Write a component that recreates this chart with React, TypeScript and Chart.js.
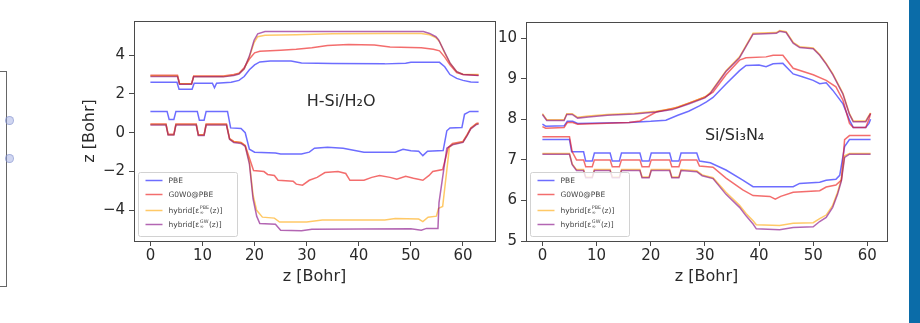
import React, { useEffect, useRef } from "react";
import { Chart, registerables } from "chart.js";

Chart.register(...registerables);

type Pts = [number, number][];

// ---------- shared axis / label data ----------
const xTicks = [0, 10, 20, 30, 40, 50, 60];
const leftYTicks = [-4, -2, 0, 2, 4];
const rightYTicks = [5, 6, 7, 8, 9, 10];
const axisTitle = "z [Bohr]";
const legendLabels = ["PBE", "G0W0@PBE", "hybrid[ε_∞^PBE(z)]", "hybrid[ε_∞^GW(z)]"];
const panelNames = ["H-Si/H₂O", "Si/Si₃N₄"];
const panelNamePos: [number, number][] = [[30, 1.37], [30, 7.49]];

// ---------- H-Si/H2O panel ----------
const hsiPbeCB: Pts = [[0,2.6],[5.1,2.6],[5.5,2.24],[8.0,2.24],[8.4,2.55],[11.9,2.55],[12.3,2.32],[12.7,2.55],[15.5,2.6],[17.0,2.7],[18.0,2.9],[19.0,3.25],[20.0,3.5],[21.0,3.65],[23,3.7],[27,3.7],[29,3.6],[35,3.57],[45,3.55],[49,3.58],[50,3.63],[55.5,3.63],[56.5,3.4],[57.5,3.0],[58.8,2.8],[60,2.7],[61.5,2.62],[63,2.6]];
const hsiG0w0CB: Pts = [[0,2.97],[5.2,2.97],[5.6,2.52],[7.9,2.52],[8.3,2.93],[14,2.93],[16,3.0],[17,3.07],[18,3.35],[19,3.8],[20,4.12],[21,4.2],[25,4.25],[28,4.3],[31,4.38],[34,4.5],[38,4.55],[43,4.52],[46,4.42],[52,4.38],[54.3,4.3],[55.5,4.22],[56.5,3.9],[57.5,3.5],[58.8,3.1],[60,3.0],[63,2.97]];
const hsiHybPbeCB: Pts = [[0,2.93],[5.2,2.93],[5.6,2.52],[7.9,2.52],[8.3,2.9],[14,2.9],[16,2.97],[17,3.05],[18,3.3],[19,3.9],[19.9,4.65],[20.6,4.95],[22,5.02],[28,5.05],[35,5.1],[45,5.12],[52,5.12],[53.6,5.05],[54.8,4.9],[55.5,4.7],[56.5,4.1],[57.5,3.6],[58.8,3.15],[60,3.02],[63,3.0]];
const hsiHybGwCB: Pts = [[0,2.9],[5.2,2.9],[5.6,2.5],[7.9,2.5],[8.3,2.88],[14,2.88],[16,2.95],[17,3.03],[18,3.3],[19,3.95],[19.9,4.77],[20.6,5.1],[22,5.22],[52.4,5.22],[53.6,5.12],[54.8,4.95],[55.3,4.8],[56.5,4.15],[57.5,3.6],[58.8,3.15],[60,3.0],[63,2.95]];
const hsiPbeVB: Pts = [[0,1.1],[3.2,1.1],[3.6,0.68],[4.5,0.68],[4.9,1.1],[9.0,1.1],[9.4,0.65],[10.3,0.65],[10.7,1.1],[14.8,1.1],[15.4,0.25],[17.4,0.22],[18.2,0.0],[19.0,-0.85],[20.0,-1.0],[24,-1.05],[25,-1.1],[29,-1.1],[30.5,-1.0],[31.5,-0.8],[34,-0.75],[37,-0.8],[39,-0.9],[41,-1.0],[47,-1.0],[48.5,-0.85],[50,-0.93],[51.5,-0.95],[52.3,-1.18],[53.2,-0.95],[56.2,-0.92],[56.9,0.1],[57.5,0.25],[59.8,0.27],[60.3,0.95],[61.3,1.1],[63,1.1]];
const hsiG0w0VB: Pts = [[0,0.45],[3.0,0.45],[3.4,-0.08],[4.5,-0.08],[4.9,0.45],[8.8,0.45],[9.2,-0.1],[10.3,-0.1],[10.7,0.45],[14.6,0.45],[15.2,-0.3],[16,-0.45],[17.4,-0.5],[18.2,-0.65],[19,-1.3],[19.8,-1.95],[21.8,-2.0],[22.5,-2.15],[23.8,-2.2],[24.5,-2.45],[27.4,-2.5],[28,-2.65],[29.2,-2.7],[30.5,-2.45],[32,-2.3],[33.5,-2.05],[36,-2.0],[37.5,-2.1],[38.3,-2.45],[41,-2.45],[42.5,-2.3],[44,-2.2],[46,-2.3],[47.3,-2.4],[49,-2.25],[50.5,-2.35],[52.3,-2.45],[53.5,-2.2],[54.2,-2.0],[56.1,-1.9],[57.2,-0.75],[58,-0.55],[60,-0.45],[60.8,-0.1],[61.5,0.25],[62.6,0.48],[63,0.5]];
const hsiHybPbeVB: Pts = [[0,0.42],[3.0,0.42],[3.4,-0.1],[4.5,-0.1],[4.9,0.42],[8.8,0.42],[9.2,-0.12],[10.3,-0.12],[10.7,0.42],[14.6,0.42],[15.2,-0.32],[16,-0.47],[17.4,-0.52],[18.2,-0.67],[19,-1.5],[19.7,-3.2],[20.4,-4.0],[21.5,-4.35],[23.8,-4.4],[24.8,-4.6],[30,-4.6],[33,-4.5],[45,-4.5],[47,-4.42],[51.5,-4.45],[52.3,-4.58],[53.3,-4.35],[54.9,-4.3],[55.3,-3.9],[56.1,-3.8],[57.4,-0.75],[58,-0.6],[60,-0.47],[60.8,-0.12],[61.5,0.22],[62.6,0.45],[63,0.47]];
const hsiHybGwVB: Pts = [[0,0.4],[3.0,0.4],[3.4,-0.12],[4.5,-0.12],[4.9,0.4],[8.8,0.4],[9.2,-0.14],[10.3,-0.14],[10.7,0.4],[14.6,0.4],[15.2,-0.34],[16,-0.5],[17.4,-0.55],[18.2,-0.7],[19,-1.6],[19.7,-3.4],[20.4,-4.3],[21,-4.68],[24,-4.72],[25,-5.02],[29,-5.05],[31,-4.97],[50,-4.95],[52,-5.02],[53,-4.93],[55.2,-4.93],[55.4,-3.6],[56.9,-0.8],[58,-0.62],[60,-0.5],[60.8,-0.15],[61.5,0.2],[62.6,0.43],[63,0.45]];

// ---------- Si/Si3N4 panel ----------
const sinPbeCB: Pts = [[0,7.88],[0.6,7.83],[4,7.84],[4.6,7.95],[5.6,7.95],[6.5,7.9],[16,7.92],[20,7.95],[22.8,7.98],[25,8.1],[27,8.2],[29,8.33],[30.3,8.43],[31.5,8.54],[33.9,8.87],[36.4,9.2],[37.6,9.33],[40,9.34],[41.3,9.3],[42.6,9.37],[44.4,9.38],[46.3,9.12],[48,9.05],[50,8.96],[51.2,8.88],[52.4,8.9],[53.6,8.72],[55.5,8.38],[56.7,7.98],[57.4,7.8],[59.7,7.8],[60.3,7.9],[60.6,8.0]];
const sinG0w0CB: Pts = [[0,7.82],[0.6,7.78],[4,7.8],[4.6,7.92],[5.6,7.92],[6.5,7.88],[16,7.92],[18,7.96],[21,8.18],[25,8.3],[28,8.45],[30,8.55],[31.5,8.67],[33.9,9.1],[36.4,9.46],[37.6,9.52],[41.3,9.54],[42.6,9.58],[44.4,9.58],[46.3,9.26],[50,9.1],[52.4,8.96],[54.2,8.8],[55.5,8.47],[56.7,7.9],[57.4,7.8],[59.7,7.8],[60.3,8.0],[60.6,8.15]];
const sinHybPbeCB: Pts = [[0,8.14],[0.8,7.99],[4,7.99],[4.5,8.14],[5.5,8.14],[6.5,8.05],[8.5,8.08],[12,8.12],[17,8.15],[21,8.2],[24,8.26],[27,8.4],[30,8.55],[31,8.66],[33.9,9.2],[36.4,9.54],[38.9,10.12],[43.2,10.14],[43.8,10.19],[45,10.16],[46.3,9.9],[47.5,9.79],[50,9.76],[51.2,9.6],[52.4,9.38],[53.6,9.13],[55.5,8.64],[56.7,8.14],[57.4,7.96],[59.7,7.96],[60.3,8.1],[60.6,8.16]];
const sinHybGwCB: Pts = [[0,8.12],[0.8,7.97],[4,7.97],[4.5,8.12],[5.5,8.12],[6.5,8.03],[8.5,8.06],[12,8.1],[17,8.13],[21,8.18],[24,8.24],[27,8.38],[30,8.53],[31,8.64],[33.9,9.18],[36.4,9.52],[38.9,10.1],[43.2,10.12],[43.8,10.17],[45,10.14],[46.3,9.88],[47.5,9.77],[50,9.74],[51.2,9.58],[52.4,9.36],[53.6,9.11],[55.5,8.62],[56.7,8.12],[57.4,7.94],[59.7,7.94],[60.3,8.08],[60.6,8.14]];
const sinPbeVB: Pts = [[0,7.5],[5,7.5],[5.4,7.2],[7.6,7.2],[8,6.97],[9.2,6.97],[9.6,7.17],[12.5,7.17],[12.9,6.97],[14.2,6.97],[14.6,7.17],[18.0,7.17],[18.4,6.97],[19.7,6.97],[20.1,7.17],[23.5,7.17],[23.9,6.97],[25.2,6.97],[25.6,7.17],[28.5,7.17],[29,6.97],[31,6.93],[33.9,6.75],[37,6.5],[38.9,6.34],[46.3,6.34],[47.5,6.42],[51.2,6.45],[52.4,6.5],[54.2,6.52],[54.9,6.62],[55.8,7.33],[56.7,7.5],[60.6,7.5]];
const sinG0w0VB: Pts = [[0,7.57],[5,7.57],[5.5,7.2],[6.3,7.0],[7.6,7.0],[8,6.83],[9.2,6.83],[9.6,7.0],[12.5,7.0],[12.9,6.83],[14.2,6.83],[14.6,7.0],[18,7.0],[18.4,6.83],[19.7,6.83],[20.1,7.0],[23.5,7.0],[23.9,6.83],[25.2,6.83],[25.6,7.0],[28.5,7.0],[29,6.85],[31.5,6.82],[33.9,6.55],[37,6.26],[38.9,6.12],[42,6.1],[43,6.03],[44,6.1],[46.3,6.2],[51.2,6.24],[52.4,6.33],[54.2,6.38],[55.2,6.5],[55.8,7.5],[56.7,7.6],[60.6,7.6]];
const sinHybPbeVB: Pts = [[0,7.16],[5,7.16],[5.5,6.9],[6.3,6.76],[7.6,6.76],[8,6.58],[9.2,6.58],[9.6,6.76],[12.5,6.76],[12.9,6.58],[14.2,6.58],[14.6,6.76],[18,6.76],[18.4,6.58],[19.7,6.58],[20.1,6.76],[23.5,6.76],[23.9,6.58],[25.2,6.58],[25.6,6.76],[28.5,6.73],[29.5,6.63],[31.5,6.56],[33.9,6.2],[36.4,5.88],[37.6,5.68],[38.9,5.5],[39.5,5.4],[43.8,5.38],[46.3,5.44],[50,5.45],[51.2,5.55],[52.4,5.64],[53.6,5.88],[54.5,6.2],[55.2,6.52],[55.8,7.1],[56.7,7.16],[60.6,7.16]];
const sinHybGwVB: Pts = [[0,7.14],[5,7.14],[5.5,6.88],[6.3,6.74],[7.6,6.74],[8,6.56],[9.2,6.56],[9.6,6.74],[12.5,6.74],[12.9,6.56],[14.2,6.56],[14.6,6.74],[18,6.74],[18.4,6.56],[19.7,6.56],[20.1,6.74],[23.5,6.74],[23.9,6.56],[25.2,6.56],[25.6,6.74],[28.5,6.71],[29.5,6.61],[31.5,6.54],[33.9,6.15],[36.4,5.83],[37.6,5.62],[38.9,5.42],[39.5,5.3],[43.8,5.28],[46.3,5.33],[50,5.35],[51.2,5.48],[52.4,5.58],[53.6,5.83],[54.5,6.15],[55.2,6.48],[55.8,7.06],[56.7,7.14],[60.6,7.14]];

// ---------- styles ----------
const FONT = "'DejaVu Sans', 'Liberation Sans', sans-serif";
const seriesColors = ["rgba(20,20,255,0.62)", "rgba(235,20,20,0.62)", "rgba(255,165,0,0.6)", "rgba(128,0,128,0.6)"];
const AXIS_COLOR = "#4a4a4a";
const TEXT_COLOR = "#2a2a2a";

type PanelCfg = {
  left: number; width: number; height: number;
  pad: { left: number; right: number; top: number; bottom: number };
  yWidth: number; xHeight: number;
  xMin: number; xMax: number; yMin: number; yMax: number;
  yTicks: number[]; yTitle: boolean;
  series: Pts[][]; // [PBE, G0W0, hybPBE, hybGW] each -> [CB, VB]
  name: string; namePos: [number, number];
};

function drawRich(ctx: CanvasRenderingContext2D, label: string, x: number, y: number, size: number) {
  const m = label.match(/^(.*)_(\S)\^(\w+)(.*)$/);
  ctx.font = `${size}px ${FONT}`;
  if (!m) { ctx.fillText(label, x, y); return; }
  const [, a, sub, sup, b] = m;
  ctx.fillText(a, x, y);
  let cx = x + ctx.measureText(a).width;
  const small = size * 0.65;
  ctx.font = `${small}px ${FONT}`;
  ctx.fillText(sup, cx + 0.5, y - size * 0.38);
  ctx.fillText(sub, cx + 0.5, y + size * 0.28);
  cx += Math.max(ctx.measureText(sup).width, ctx.measureText(sub).width) + 1;
  ctx.font = `${size}px ${FONT}`;
  ctx.fillText(b, cx, y);
}

const decorPlugin = {
  id: "decor",
  afterDraw(chart: any) {
    const { ctx, chartArea } = chart;
    const { left, top, right, bottom } = chartArea;
    const cfg: PanelCfg = chart.options.plugins.decor.cfg;
    ctx.save();
    // frame (spines)
    ctx.strokeStyle = AXIS_COLOR;
    ctx.lineWidth = 1;
    ctx.strokeRect(Math.round(left) + 0.5, Math.round(top) + 0.5, Math.round(right - left), Math.round(bottom - top));
    // panel name
    const xs = chart.scales.x, ys = chart.scales.y;
    ctx.fillStyle = TEXT_COLOR;
    ctx.font = `16px ${FONT}`;
    ctx.textAlign = "left";
    ctx.textBaseline = "alphabetic";
    ctx.fillText(cfg.name, xs.getPixelForValue(cfg.namePos[0]), ys.getPixelForValue(cfg.namePos[1]));
    // legend
    const bx = Math.round(left) + 4.5, bw = 99, bh = 64;
    const by = Math.round(bottom) - 4.5 - bh;
    ctx.fillStyle = "rgba(255,255,255,0.8)";
    ctx.strokeStyle = "#d2d2d2";
    ctx.beginPath();
    if ((ctx as any).roundRect) (ctx as any).roundRect(bx, by, bw, bh, 2); else ctx.rect(bx, by, bw, bh);
    ctx.fill();
    ctx.stroke();
    const rows = [8, 22, 38, 52];
    legendLabels.forEach((lab, i) => {
      const yy = by + rows[i];
      ctx.strokeStyle = seriesColors[i];
      ctx.lineWidth = 1.5;
      ctx.beginPath();
      ctx.moveTo(bx + 7, yy);
      ctx.lineTo(bx + 24, yy);
      ctx.stroke();
      ctx.fillStyle = "#444";
      ctx.textBaseline = "middle";
      drawRich(ctx, lab, bx + 30, yy + 0.5, 7.5);
    });
    ctx.restore();
  },
};

function buildConfig(cfg: PanelCfg): any {
  const datasets: any[] = [];
  // last series (purple) first so it is drawn on top, like matplotlib
  for (let s = cfg.series.length - 1; s >= 0; s--) {
    cfg.series[s].forEach((pts) => {
      datasets.push({
        data: pts.map(([x, y]) => ({ x, y })),
        borderColor: seriesColors[s],
        borderWidth: 1.5,
        pointRadius: 0,
        tension: 0,
        fill: false,
      });
    });
  }
  const tickFont = { family: FONT, size: 15 };
  return {
    type: "line",
    data: { datasets },
    plugins: [decorPlugin],
    options: {
      animation: false,
      responsive: false,
      maintainAspectRatio: false,
      events: [],
      layout: { padding: cfg.pad },
      plugins: { legend: { display: false }, tooltip: { enabled: false }, decor: { cfg } },
      scales: {
        x: {
          type: "linear",
          min: cfg.xMin,
          max: cfg.xMax,
          afterBuildTicks: (s: any) => { s.ticks = xTicks.map((v) => ({ value: v })); },
          afterFit: (s: any) => { s.height = cfg.xHeight; },
          grid: { drawOnChartArea: false, drawTicks: true, tickLength: 5, color: AXIS_COLOR },
          border: { display: false },
          ticks: { font: tickFont, color: TEXT_COLOR, padding: 1, maxRotation: 0, autoSkip: false },
          title: { display: true, text: axisTitle, font: { family: FONT, size: 16 }, color: TEXT_COLOR, padding: { top: 0, bottom: 4 } },
        },
        y: {
          type: "linear",
          min: cfg.yMin,
          max: cfg.yMax,
          afterBuildTicks: (s: any) => { s.ticks = cfg.yTicks.map((v) => ({ value: v })); },
          afterFit: (s: any) => { s.width = cfg.yWidth; },
          grid: { drawOnChartArea: false, drawTicks: true, tickLength: 5, color: AXIS_COLOR },
          border: { display: false },
          ticks: {
            font: tickFont, color: TEXT_COLOR, padding: 4, autoSkip: false,
            callback: (v: number) => (v < 0 ? "\u2212" + Math.abs(v) : String(v)),
          },
          title: { display: cfg.yTitle, text: axisTitle, font: { family: FONT, size: 16 }, color: TEXT_COLOR, padding: { top: 4, bottom: 0 } },
        },
      },
    },
  };
}

const leftPanel: PanelCfg = {
  left: 70, width: 435, height: 300,
  pad: { left: 6.4, right: 10, top: 21, bottom: 9.4 },
  yWidth: 57.6, xHeight: 49.6,
  xMin: -3.15, xMax: 66.15, yMin: -5.58, yMax: 5.76,
  yTicks: leftYTicks, yTitle: true,
  series: [[hsiPbeCB, hsiPbeVB], [hsiG0w0CB, hsiG0w0VB], [hsiHybPbeCB, hsiHybPbeVB], [hsiHybGwCB, hsiHybGwVB]],
  name: panelNames[0], namePos: panelNamePos[0],
};

const rightPanel: PanelCfg = {
  left: 480, width: 425, height: 300,
  pad: { left: 0, right: 18, top: 22, bottom: 9.4 },
  yWidth: 46, xHeight: 49.6,
  xMin: -3.03, xMax: 63.63, yMin: 5.0, yMax: 10.4,
  yTicks: rightYTicks, yTitle: false,
  series: [[sinPbeCB, sinPbeVB], [sinG0w0CB, sinG0w0VB], [sinHybPbeCB, sinHybPbeVB], [sinHybGwCB, sinHybGwVB]],
  name: panelNames[1], namePos: panelNamePos[1],
};

function Panel({ cfg }: { cfg: PanelCfg }) {
  const ref = useRef<HTMLCanvasElement>(null);
  useEffect(() => {
    const chart = new Chart(ref.current as HTMLCanvasElement, buildConfig(cfg));
    return () => chart.destroy();
  }, [cfg]);
  return (
    <canvas
      ref={ref}
      width={cfg.width}
      height={cfg.height}
      style={{ position: "absolute", left: cfg.left, top: 0, width: cfg.width, height: cfg.height }}
    />
  );
}

export default function App() {
  return (
    <div style={{ position: "fixed", left: 0, top: 0, width: 920, height: 323, background: "#fff", overflow: "hidden" }}>
      {/* cropped neighbouring figure at the far left */}
      <div style={{ position: "absolute", left: -2, top: 71, width: 8, height: 214, border: "1px solid #666", borderLeft: "none" }} />
      <div style={{ position: "absolute", left: 5, top: 116, width: 7, height: 7, borderRadius: "50%", background: "rgba(150,165,225,0.45)", border: "1px solid rgba(120,135,200,0.5)" }} />
      <div style={{ position: "absolute", left: 5, top: 154, width: 7, height: 7, borderRadius: "50%", background: "rgba(150,165,225,0.45)", border: "1px solid rgba(120,135,200,0.5)" }} />
      <Panel cfg={leftPanel} />
      <Panel cfg={rightPanel} />
      {/* blue side bar */}
      <div style={{ position: "absolute", left: 909, top: 0, width: 11, height: 323, background: "#0b6ca8" }} />
    </div>
  );
}
